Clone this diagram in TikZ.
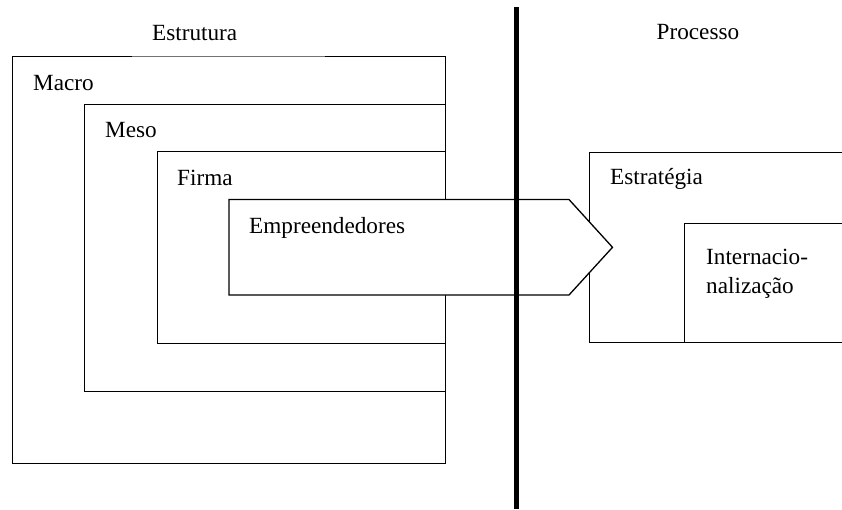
\documentclass[tikz,border=0pt]{standalone}
\usepackage{fontspec}
\setmainfont{Liberation Serif}
\begin{document}
\begin{tikzpicture}[x=1pt,y=-1pt,
  frame/.style={draw=black, line width=1.3pt, fill=white, rectangle, inner sep=0pt, anchor=north west},
  lbl/.style={inner sep=0pt, anchor=base west, font=\fontsize{23.2}{29}\selectfont},
  divider/.style={line width=5pt, draw=black}]
\useasboundingbox (0,0) rectangle (842,509);
\clip (0,0) rectangle (842,509);

% nested structure levels
\node[frame, minimum width=432.5pt, minimum height=407pt] (macro) at (12,56) {};
\node[frame, minimum width=360.5pt, minimum height=287pt] (meso) at (84,104) {};
\node[frame, minimum width=288pt, minimum height=192pt] (firma) at (156.5,151) {};
% lighter part of the outer frame's top edge
\draw[white, line width=1.6pt] (132,56) -- (325,56);
\draw[black!55, line width=0.8pt] (132,56) -- (325,56);

% process side
\node[frame, minimum width=270pt, minimum height=190pt] (estrategia) at (589,152) {};
\node[frame, minimum width=170pt, minimum height=119pt] (internac) at (684,223) {};

% entrepreneurs arrow
\coordinate (eA) at (229,199.5);
\coordinate (eB) at (569,199.5);
\coordinate (eC) at (612.5,247.3);
\coordinate (eD) at (569,295);
\coordinate (eE) at (229,295);
\draw[line width=1.3pt, fill=white, line join=miter] (eA) -- (eB) -- (eC) -- (eD) -- (eE) -- cycle;

% dividing line
\coordinate (divtop) at (516.3,7);
\coordinate (divbot) at (516.3,509);
\draw[divider] (divtop) -- (divbot);

% labels
\node[lbl] (tEstrutura) at (152,40) {Estrutura};
\node[lbl] (tProcesso) at (656.5,39.5) {Processo};
\node[lbl] (tMacro) at (33,90) {Macro};
\node[lbl] (tMeso) at (105,137) {Meso};
\node[lbl] (tFirma) at (177,185) {Firma};
\node[lbl] (tEmp) at (249,233) {Empreendedores};
\node[lbl] (tEstr) at (610,184.5) {Estratégia};
\node[lbl] (tInt1) at (706,264) {Internacio-};
\node[lbl] (tInt2) at (706,293) {nalização};
\end{tikzpicture}
\end{document}
